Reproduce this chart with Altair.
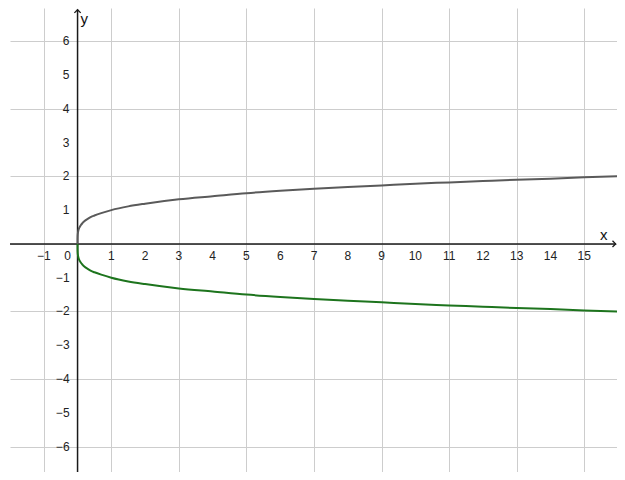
import altair as alt
import pandas as pd

# ---- data ----
curve_x = [0, 0.0001, 0.0005, 0.002, 0.005, 0.01, 0.02, 0.04, 0.07, 0.1, 0.15, 0.2, 0.3,
           0.4, 0.5, 0.7, 1, 1.5, 2, 3, 4, 5, 6, 7, 8, 9, 10, 11, 12, 13, 14, 15, 16]
upper_y = [0, 0.1, 0.15, 0.21, 0.27, 0.32, 0.38, 0.45, 0.51, 0.56, 0.62, 0.67, 0.74,
           0.8, 0.84, 0.91, 1.0, 1.11, 1.19, 1.32, 1.41, 1.5, 1.57, 1.63, 1.68, 1.73,
           1.78, 1.82, 1.86, 1.9, 1.93, 1.97, 2.0]
lower_y = [-v for v in upper_y]

x_ticks = [-1, 1, 2, 3, 4, 5, 6, 7, 8, 9, 10, 11, 12, 13, 14, 15]
x_tick_labels = ["−1", "1", "2", "3", "4", "5", "6", "7", "8", "9", "10", "11", "12", "13", "14", "15"]
y_ticks = [6, 5, 4, 3, 2, 1, -1, -2, -3, -4, -5, -6]
y_tick_labels = ["6", "5", "4", "3", "2", "1", "−1", "−2", "−3", "−4", "−5", "−6"]
grid_x = list(range(-1, 16))
grid_y = list(range(-6, 7))

x_domain = [-2, 15.97]
y_domain = [-6.75, 6.98]
x_axis_end = 15.93
y_axis_end = 6.93

FONT = "Liberation Sans"

xs = alt.Scale(domain=x_domain, nice=False, zero=False)
ys = alt.Scale(domain=y_domain, nice=False, zero=False)

curves = pd.DataFrame({
    "x": curve_x * 2,
    "y": upper_y + lower_y,
    "branch": ["upper"] * len(curve_x) + ["lower"] * len(curve_x),
})

# grid via axes
grid = alt.Chart(pd.DataFrame({"x": [0], "y": [0]})).mark_point(opacity=0).encode(
    x=alt.X("x:Q", scale=xs, axis=alt.Axis(values=grid_x, grid=True, labels=False, ticks=False,
                                            domain=False, title=None, gridColor="#cdcdcd", gridWidth=1)),
    y=alt.Y("y:Q", scale=ys, axis=alt.Axis(values=grid_y, grid=True, labels=False, ticks=False,
                                            domain=False, title=None, gridColor="#cdcdcd", gridWidth=1)),
)

# axis lines
xaxis_line = alt.Chart(pd.DataFrame({"x": [x_domain[0]], "x2": [x_axis_end], "y": [0]})).mark_rule(
    color="#1a1a1a", strokeWidth=1.5).encode(
    x=alt.X("x:Q", scale=xs), x2="x2:Q", y=alt.Y("y:Q", scale=ys))
yaxis_line = alt.Chart(pd.DataFrame({"x": [0], "y": [y_domain[0]], "y2": [y_axis_end]})).mark_rule(
    color="#1a1a1a", strokeWidth=1.5).encode(
    x=alt.X("x:Q", scale=xs), y=alt.Y("y:Q", scale=ys), y2="y2:Q")

# arrow heads
arrow_right = alt.Chart(pd.DataFrame({"x": [x_axis_end], "y": [0]})).mark_point(
    shape="M-1,-1L0,0L-1,1", filled=False, stroke="#1a1a1a", strokeWidth=1.3, size=40, opacity=1).encode(
    x=alt.X("x:Q", scale=xs), y=alt.Y("y:Q", scale=ys))
arrow_up = alt.Chart(pd.DataFrame({"x": [0], "y": [y_axis_end]})).mark_point(
    shape="M-1,1L0,0L1,1", filled=False, stroke="#1a1a1a", strokeWidth=1.3, size=40, opacity=1).encode(
    x=alt.X("x:Q", scale=xs), y=alt.Y("y:Q", scale=ys))

# axis titles
x_title = alt.Chart(pd.DataFrame({"x": [x_axis_end], "y": [0], "t": ["x"]})).mark_text(
    font=FONT, fontSize=15, color="#111", dx=-12, dy=-9, baseline="middle").encode(
    x=alt.X("x:Q", scale=xs), y=alt.Y("y:Q", scale=ys), text="t:N")
y_title = alt.Chart(pd.DataFrame({"x": [0], "y": [y_axis_end], "t": ["y"]})).mark_text(
    font=FONT, fontSize=15, color="#111", dx=3, dy=9, align="left", baseline="middle").encode(
    x=alt.X("x:Q", scale=xs), y=alt.Y("y:Q", scale=ys), text="t:N")

# tick labels
xl = alt.Chart(pd.DataFrame({"x": x_ticks, "y": [0] * len(x_ticks), "t": x_tick_labels})).mark_text(
    font=FONT, fontSize=12, color="#222", dy=12, baseline="middle").encode(
    x=alt.X("x:Q", scale=xs), y=alt.Y("y:Q", scale=ys), text="t:N")
zero_l = alt.Chart(pd.DataFrame({"x": [0], "y": [0], "t": ["0"]})).mark_text(
    font=FONT, fontSize=12, color="#222", dx=-10, dy=12, baseline="middle").encode(
    x=alt.X("x:Q", scale=xs), y=alt.Y("y:Q", scale=ys), text="t:N")
yl = alt.Chart(pd.DataFrame({"x": [0] * len(y_ticks), "y": y_ticks, "t": y_tick_labels})).mark_text(
    font=FONT, fontSize=12, color="#222", dx=-8, align="right", baseline="middle").encode(
    x=alt.X("x:Q", scale=xs), y=alt.Y("y:Q", scale=ys), text="t:N")

lines = alt.Chart(curves).mark_line(strokeWidth=2, clip=True, interpolate="monotone").encode(
    x=alt.X("x:Q", scale=xs),
    y=alt.Y("y:Q", scale=ys),
    detail="branch:N",
    color=alt.Color("branch:N", scale=alt.Scale(domain=["upper", "lower"], range=["#5a5a5a", "#1d741d"]),
                    legend=None),
)

chart = alt.layer(grid, xaxis_line, yaxis_line, lines, arrow_right, arrow_up, x_title, y_title,
                  xl, zero_l, yl).properties(
    width=607, height=464,
    autosize=alt.AutoSizeParams(type="none"),
    padding={"left": 2, "top": 0, "right": 0, "bottom": 0},
    background="white",
).configure_view(strokeWidth=0)

chart.save("out.html", embed_options={"renderer": "svg", "actions": False})
